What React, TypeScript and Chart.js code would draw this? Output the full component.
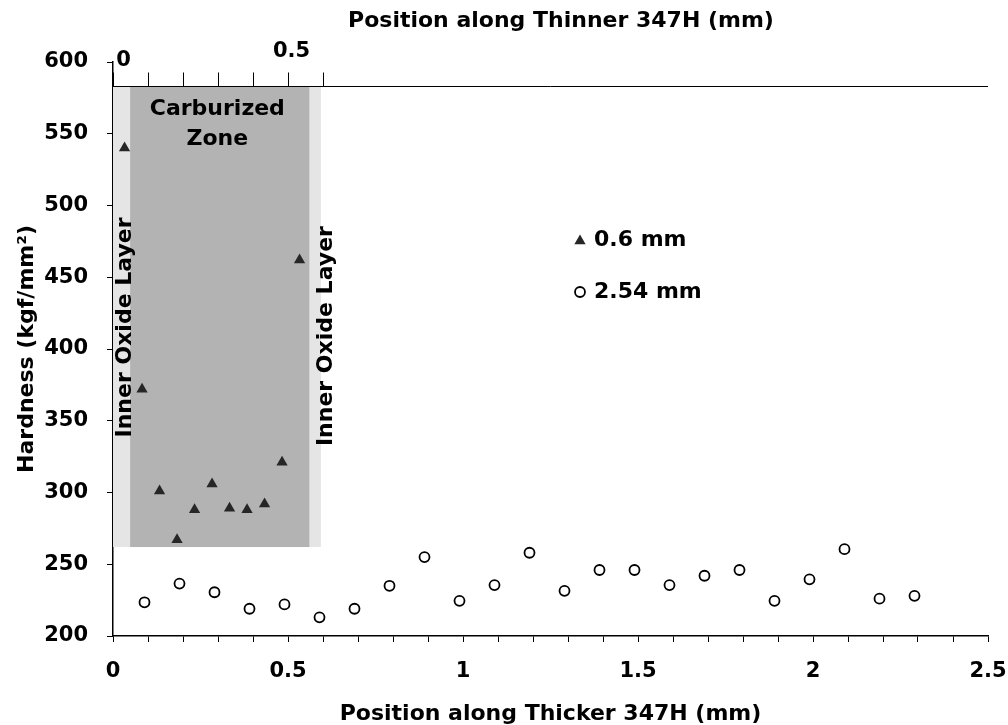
import React, { useEffect, useRef } from "react";
import { Chart, registerables } from "chart.js";

Chart.register(...registerables);

// ---- data ----
const thinX = [0.033, 0.083, 0.133, 0.183, 0.233, 0.283, 0.333, 0.383, 0.433, 0.483, 0.533];
const thinY = [540, 372, 301, 267, 288, 306, 289, 288, 292, 321, 462];

const thickX = [0.09, 0.19, 0.29, 0.39, 0.49, 0.59, 0.69, 0.79, 0.89, 0.99, 1.09, 1.19, 1.29, 1.39, 1.49, 1.59, 1.69, 1.79, 1.89, 1.99, 2.09, 2.19, 2.29];
const thickY = [223.5, 236.5, 230.5, 219, 222, 213, 219, 235, 255, 224.5, 235.5, 258, 231.5, 246, 246, 235.5, 242, 246, 224.5, 239.5, 260.5, 226, 228];

const seriesLabels = ["0.6 mm", "2.54 mm"];
const topAxisTicks = [0, 0.1, 0.2, 0.3, 0.4, 0.5, 0.6];
const topAxisLabels = ["0", "", "", "", "", "0.5", ""];
const topAxisTitle = "Position along Thinner 347H (mm)";
const xTitle = "Position along Thicker 347H (mm)";
const yTitle = "Hardness (kgf/mm²)";
const zoneLabel = ["Carburized", "Zone"];
const oxideLabel = "Inner Oxide Layer";

// region bounds (data units)
const oxideRegion = { x0: 0, x1: 0.594, y0: 262, y1: 583 };
const carbRegion = { x0: 0.049, x1: 0.561, y0: 262, y1: 583 };
const topAxisValue = 583;

const FONT = "'DejaVu Sans', 'Liberation Sans', Arial, sans-serif";

function drawTriangle(ctx: any, x: number, y: number, r: number) {
  ctx.beginPath();
  for (let k = 0; k < 3; k++) {
    const a = (k * 2 * Math.PI) / 3;
    const px = x + Math.sin(a) * r;
    const py = y - Math.cos(a) * r;
    if (k === 0) ctx.moveTo(px, py);
    else ctx.lineTo(px, py);
  }
  ctx.closePath();
  ctx.fill();
}

const overlayPlugin = {
  id: "overlay",
  beforeDatasetsDraw(chart: any) {
    const { ctx, scales } = chart;
    const xs = scales.x, ys = scales.y;
    ctx.save();
    const rect = (r: any, color: string) => {
      const l = xs.getPixelForValue(r.x0), rr = xs.getPixelForValue(r.x1);
      const t = ys.getPixelForValue(r.y1), b = ys.getPixelForValue(r.y0);
      ctx.fillStyle = color;
      ctx.fillRect(l, t, rr - l, b - t);
    };
    rect(oxideRegion, "#e5e5e5");
    rect(carbRegion, "#b3b3b3");

    ctx.fillStyle = "#000";
    ctx.font = `bold 22px ${FONT}`;
    ctx.textAlign = "center";
    ctx.textBaseline = "middle";
    const cx = xs.getPixelForValue(0.298);
    ctx.fillText(zoneLabel[0], cx, ys.getPixelForValue(567));
    ctx.fillText(zoneLabel[1], cx, ys.getPixelForValue(546));

    const rot = (xv: number, yv: number) => {
      ctx.save();
      ctx.translate(xs.getPixelForValue(xv), ys.getPixelForValue(yv));
      ctx.rotate(-Math.PI / 2);
      ctx.fillText(oxideLabel, 0, 0);
      ctx.restore();
    };
    rot(0.034, 415);
    rot(0.608, 409);
    ctx.restore();
  },
  afterDraw(chart: any) {
    const { ctx, scales } = chart;
    const xs = scales.x, ys = scales.y;
    ctx.save();
    const yTop = Math.round(ys.getPixelForValue(topAxisValue)) + 0.5;
    ctx.strokeStyle = "#000";
    ctx.lineWidth = 1;
    ctx.beginPath();
    ctx.moveTo(xs.getPixelForValue(0), yTop);
    ctx.lineTo(xs.getPixelForValue(2.5), yTop);
    ctx.stroke();
    ctx.font = `bold 21px ${FONT}`;
    ctx.fillStyle = "#000";
    ctx.textAlign = "center";
    ctx.textBaseline = "middle";
    const labelOffsets = [[10, -26], [3, -35]];
    let li = 0;
    topAxisTicks.forEach((v, i) => {
      const px = Math.round(xs.getPixelForValue(v)) + 0.5;
      ctx.beginPath();
      ctx.moveTo(px, yTop);
      ctx.lineTo(px, yTop - 14);
      ctx.stroke();
      if (topAxisLabels[i]) {
        const o = labelOffsets[li++] || [3, -35];
        ctx.fillText(topAxisLabels[i], px + o[0], yTop + o[1]);
      }
    });
    // top title
    ctx.font = `bold 22px ${FONT}`;
    ctx.fillText(topAxisTitle, 561, 21);

    // legend
    const lx = 580;
    const ly = [240, 292];
    ctx.fillStyle = "#262626";
    drawTriangle(ctx, lx, ly[0] + 1, 6.5);
    ctx.beginPath();
    ctx.arc(lx, ly[1], 5, 0, Math.PI * 2);
    ctx.fillStyle = "#fff";
    ctx.fill();
    ctx.lineWidth = 1.8;
    ctx.strokeStyle = "#000";
    ctx.stroke();
    ctx.fillStyle = "#000";
    ctx.textAlign = "left";
    ctx.font = `bold 22px ${FONT}`;
    ctx.fillText(seriesLabels[0], 594, ly[0]);
    ctx.fillText(seriesLabels[1], 594, ly[1]);
    ctx.restore();
  },
};

export default function App() {
  const ref = useRef<HTMLCanvasElement>(null);
  useEffect(() => {
    if (!ref.current) return;
    const chart = new Chart(ref.current, {
      type: "scatter",
      data: {
        datasets: [
          {
            label: seriesLabels[0],
            data: thinX.map((x, i) => ({ x, y: thinY[i] })),
            pointStyle: "triangle",
            pointRadius: 6.5,
            backgroundColor: "#262626",
            borderColor: "#262626",
            borderWidth: 0,
          },
          {
            label: seriesLabels[1],
            data: thickX.map((x, i) => ({ x, y: thickY[i] })),
            pointStyle: "circle",
            pointRadius: 5,
            backgroundColor: "#ffffff",
            borderColor: "#000000",
            borderWidth: 1.8,
          },
        ],
      },
      options: {
        responsive: false,
        animation: false,
        layout: { padding: { top: 62, right: 20, left: 0, bottom: 0 } },
        plugins: { legend: { display: false }, tooltip: { enabled: false }, title: { display: false } },
        scales: {
          x: {
            type: "linear",
            min: 0,
            max: 2.5,
            afterFit: (s: any) => { s.height = 89; s.paddingRight = 0; s.paddingLeft = 0; },
            afterBuildTicks: (s: any) => {
              const t = [];
              for (let i = 0; i <= 25; i++) t.push({ value: i / 10 });
              s.ticks = t;
            },
            ticks: {
              autoSkip: false,
              maxRotation: 0,
              padding: 17,
              color: "#000",
              font: { family: FONT, size: 21, weight: "bold", lineHeight: 1.2 },
              callback: (v: any) => {
                const k = Math.round(Number(v) * 10);
                return k % 5 === 0 ? String(k / 10) : "";
              },
            },
            grid: { drawOnChartArea: false, drawTicks: true, tickLength: 6, color: "#000", lineWidth: 1 },
            border: { color: "#000", width: 1.5 },
            title: {
              display: true,
              text: xTitle,
              color: "#000",
              font: { family: FONT, size: 22, weight: "bold", lineHeight: 1 },
              padding: { top: 0, bottom: 0 },
            },
          },
          y: {
            min: 200,
            max: 600,
            afterFit: (s: any) => { s.width = 113; s.paddingTop = 0; s.paddingBottom = 0; },
            ticks: {
              stepSize: 50,
              padding: 19,
              color: "#000",
              font: { family: FONT, size: 21, weight: "bold", lineHeight: 1.2 },
            },
            grid: { drawOnChartArea: false, drawTicks: true, tickLength: 6, color: "#000", lineWidth: 1 },
            border: { color: "#000", width: 1.5 },
            title: {
              display: true,
              text: yTitle,
              color: "#000",
              font: { family: FONT, size: 22, weight: "bold", lineHeight: 1 },
              padding: { top: 16, bottom: 0 },
            },
          },
        },
      },
      plugins: [overlayPlugin],
    } as any);
    return () => chart.destroy();
  }, []);
  return (
    <div style={{ position: "fixed", left: 0, top: 0, width: 1008, height: 725, background: "#fff" }}>
      <canvas ref={ref} width={1008} height={725} />
    </div>
  );
}
